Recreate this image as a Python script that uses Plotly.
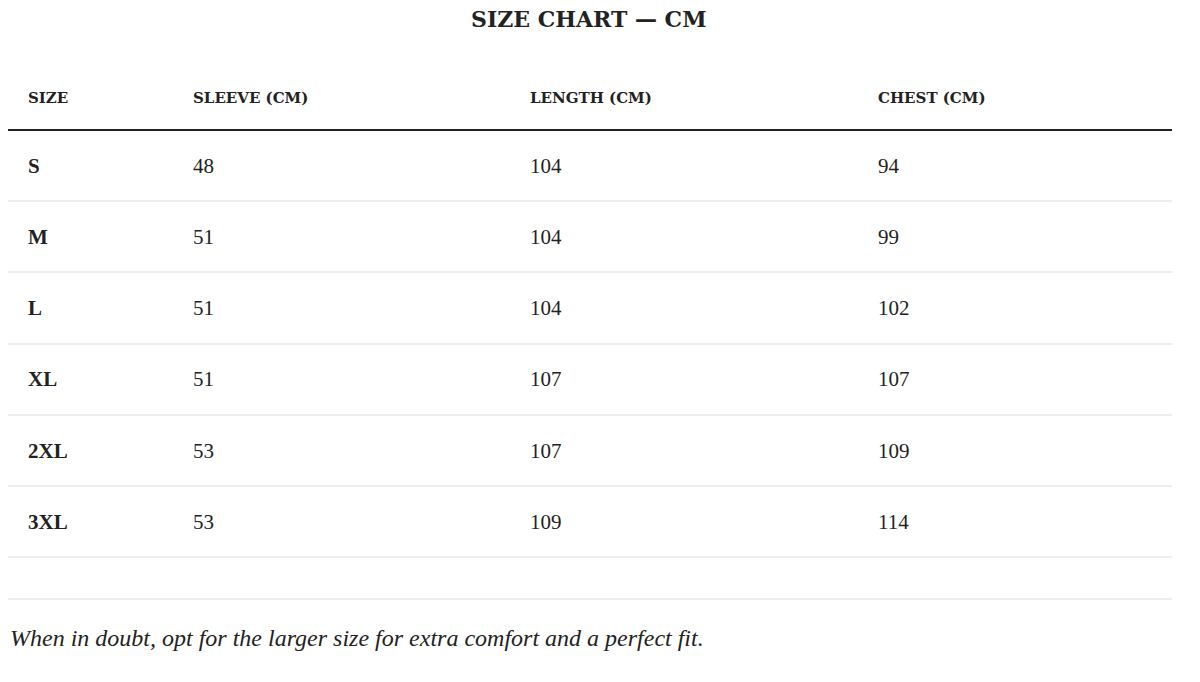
import plotly.graph_objects as go

sizes = ["S", "M", "L", "XL", "2XL", "3XL"]
sleeve = [48, 51, 51, 51, 53, 53]
length = [104, 104, 104, 107, 107, 109]
chest = [94, 99, 102, 107, 109, 114]
headers = ["SIZE", "SLEEVE (CM)", "LENGTH (CM)", "CHEST (CM)"]

# page adds ~8px offset, so positions are shifted back
col_x = [20, 185, 522, 870]
header_y = 91
row_y = [160, 231, 302, 373, 445, 516]
serif = "Liberation Serif, Georgia, serif"
wide = "DejaVu Serif, Georgia, serif"

fig = go.Figure()

fig.add_trace(go.Scatter(
    x=col_x, y=[header_y] * 4, text=["<b>%s</b>" % h for h in headers],
    mode="text", textposition="middle right",
    textfont=dict(family=wide, size=15, color="#222"), hoverinfo="skip"))

fig.add_trace(go.Scatter(
    x=[col_x[0]] * len(sizes), y=row_y, text=["<b>%s</b>" % s for s in sizes],
    mode="text", textposition="middle right",
    textfont=dict(family=serif, size=21, color="#222"), hoverinfo="skip"))

for i, vals in enumerate([sleeve, length, chest]):
    fig.add_trace(go.Scatter(
        x=[col_x[i + 1]] * len(vals), y=row_y, text=[str(v) for v in vals],
        mode="text", textposition="middle right",
        textfont=dict(family=serif, size=21, color="#222"), hoverinfo="skip"))

# table rules
fig.add_shape(type="line", x0=-1, x1=1164, y0=122, y1=122, line=dict(color="#222", width=2))
for yy in [193, 264, 336, 407, 478, 549, 591]:
    fig.add_shape(type="line", x0=-1, x1=1164, y0=yy, y1=yy, line=dict(color="#ddd", width=1))

fig.add_annotation(x=580, y=11, text="<b>SIZE CHART — CM</b>", showarrow=False,
                   font=dict(family=wide, size=22, color="#222"))
fig.add_annotation(x=0, y=630, xanchor="left",
                   text="<i>When in doubt, opt for the larger size for extra comfort and a perfect fit.</i>",
                   showarrow=False, font=dict(family=serif, size=24, color="#222"))

fig.update_layout(
    width=1200, height=682, showlegend=False,
    margin=dict(l=0, r=0, t=0, b=0),
    paper_bgcolor="white", plot_bgcolor="white",
    xaxis=dict(range=[0, 1200], visible=False, fixedrange=True),
    yaxis=dict(range=[682, 0], visible=False, fixedrange=True),
)

fig.write_html("out.html")
